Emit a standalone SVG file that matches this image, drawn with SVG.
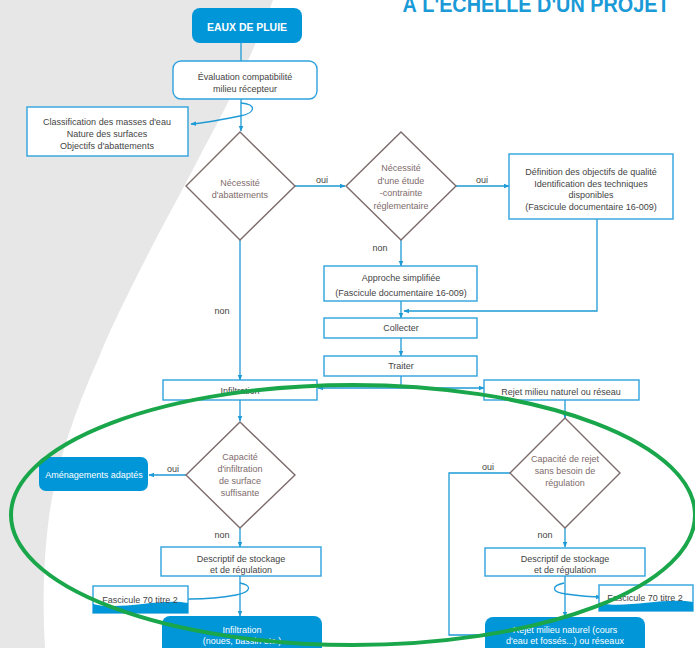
<svg xmlns="http://www.w3.org/2000/svg" width="695" height="648" viewBox="0 0 695 648">
<style>
.t{font-family:"Liberation Sans",Arial,sans-serif;font-size:9px;fill:#444444;text-anchor:middle}
.d{font-family:"Liberation Sans",Arial,sans-serif;font-size:9px;fill:#7e6b6b;text-anchor:middle}
.w{font-family:"Liberation Sans",Arial,sans-serif;font-size:9px;fill:#ffffff;text-anchor:middle}
.l{font-family:"Liberation Sans",Arial,sans-serif;font-size:9px;fill:#444444;text-anchor:middle}
.box{fill:#ffffff;stroke:#2ea3dd;stroke-width:1.4}
.fill{fill:#0096d8}
.dia{fill:#ffffff;stroke:#7d6b6b;stroke-width:1.4}
.c{fill:none;stroke:#1e9ad6;stroke-width:1.3}
.a{marker-end:url(#ah)}
</style>
<defs>
<marker id="ah" viewBox="0 0 10 10" refX="9" refY="5" markerWidth="6" markerHeight="6" markerUnits="userSpaceOnUse" orient="auto"><path d="M0,1 L10,5 L0,9 Z" fill="#1e9ad6"/></marker>
</defs>
<rect width="695" height="648" fill="#ffffff"/>
<path d="M0,0 L273,0 C255,50 225,110 203,150 C180,195 160,230 140,270 C120,310 110,330 100,355 C80,400 60,450 50,510 C44,550 42,600 45,648 L0,648 Z" fill="#e6e7e6"/>
<text x="536" y="12" font-family="Liberation Sans,Arial,sans-serif" font-size="22" font-weight="bold" fill="#1a9ad6" text-anchor="middle" textLength="267" lengthAdjust="spacingAndGlyphs">À L'ÉCHELLE D'UN PROJET</text>

<g id="connectors">
<path class="c" d="M241,43 V61"/>
<path class="c a" d="M241,99 V131"/>
<path class="c a" d="M241,103 C257,104 256,113 240,116 C225,119 206,123 191,124"/>
<path class="c a" d="M295,186 H345"/>
<path class="c a" d="M456,186 H509"/>
<path class="c a" d="M401,240 V266"/>
<path class="c a" d="M597,219 V311 H404"/>
<path class="c a" d="M401,301 V318"/>
<path class="c a" d="M401,338 V356"/>
<path class="c" d="M401,376 V388"/>
<path class="c a" d="M401,388 H318"/>
<path class="c a" d="M401,388 H484"/>
<path class="c a" d="M240,240 V380"/>
<path class="c a" d="M240,400 V421"/>
<path class="c a" d="M186,475 H149"/>
<path class="c a" d="M240,528 V547"/>
<path class="c a" d="M240,576 V616"/>
<path class="c" d="M240,583 C252,585 252,592 236,595 C220,598 202,599 190,599 C186,599 185,602 188,603"/>
<path class="c a" d="M565,400 V418"/>
<path class="c" d="M510,473 H449 V635 H485"/>
<path class="c a" d="M565,528 V547"/>
<path class="c a" d="M565,576 V617"/>
<path class="c a" d="M564,583 C551,586 551,592 566,594 C580,596 590,597 601,597"/>
<text class="l" x="322" y="183">oui</text>
<text class="l" x="482" y="183">oui</text>
<text class="l" x="380" y="251">non</text>
<text class="l" x="222" y="314">non</text>
<text class="l" x="173" y="472">oui</text>
<text class="l" x="222" y="538">non</text>
<text class="l" x="488" y="470">oui</text>
<text class="l" x="545" y="538">non</text>
</g>

<g id="eaux">
<rect class="fill" x="192" y="8" width="110" height="35" rx="8"/>
<text x="247" y="31" font-family="Liberation Sans,Arial,sans-serif" font-size="10.5" font-weight="bold" fill="#ffffff" text-anchor="middle" textLength="80" lengthAdjust="spacingAndGlyphs">EAUX DE PLUIE</text>
</g>
<g id="evaluation">
<rect class="box" x="173" y="61" width="144" height="38" rx="8"/>
<text class="t" x="245" y="80">Évaluation compatibilité</text>
<text class="t" x="245" y="92">milieu récepteur</text>
</g>
<g id="classification">
<rect class="box" x="27" y="107" width="161" height="49"/>
<text class="t" x="107" y="125">Classification des masses d'eau</text>
<text class="t" x="107" y="137">Nature des surfaces</text>
<text class="t" x="107" y="149">Objectifs d'abattements</text>
</g>
<g id="necessite-abattements">
<path class="dia" d="M240,132 L295,186 L240,240 L186,186 Z"/>
<text class="d" x="240" y="186">Nécessité</text>
<text class="d" x="240" y="198">d'abattements</text>
</g>
<g id="necessite-etude">
<path class="dia" d="M401,132 L456,186 L401,240 L346,186 Z"/>
<text class="d" x="401" y="171">Nécessité</text>
<text class="d" x="401" y="183.5">d'une étude</text>
<text class="d" x="401" y="196">-contrainte</text>
<text class="d" x="401" y="208.5">réglementaire</text>
</g>
<g id="definition">
<rect class="box" x="509" y="154" width="164" height="65"/>
<text class="t" x="591" y="175">Définition des objectifs de qualité</text>
<text class="t" x="591" y="186.5">Identification des techniques</text>
<text class="t" x="591" y="198">disponibles</text>
<text class="t" x="591" y="209.5">(Fascicule documentaire 16-009)</text>
</g>
<g id="approche">
<rect class="box" x="324" y="266" width="153" height="35"/>
<text class="t" x="401" y="281">Approche simplifiée</text>
<text class="t" x="401" y="296">(Fascicule documentaire 16-009)</text>
</g>
<g id="collecter">
<rect class="box" x="324" y="318" width="153" height="20"/>
<text class="t" x="401" y="331">Collecter</text>
</g>
<g id="traiter">
<rect class="box" x="324" y="356" width="153" height="20"/>
<text class="t" x="401" y="369">Traiter</text>
</g>
<g id="infiltration-haut">
<rect class="box" x="163" y="380" width="154" height="20"/>
<text class="t" x="240" y="394">Infiltration</text>
</g>
<g id="rejet-haut">
<rect class="box" x="484" y="380" width="155" height="20"/>
<text class="t" x="561" y="395">Rejet milieu naturel ou réseau</text>
</g>
<g id="capacite-infiltration">
<path class="dia" d="M240,422 L295,475 L240,528 L186,475 Z"/>
<text class="d" x="240" y="460">Capacité</text>
<text class="d" x="240" y="472">d'infiltration</text>
<text class="d" x="240" y="484">de surface</text>
<text class="d" x="240" y="496">suffisante</text>
</g>
<g id="amenagements">
<rect class="fill" x="39" y="457" width="109" height="34" rx="7"/>
<text class="w" x="94" y="478">Aménagements adaptés</text>
</g>
<g id="capacite-rejet">
<path class="dia" d="M565,418 L620,473 L565,528 L510,473 Z"/>
<text class="d" x="565" y="462">Capacité de rejet</text>
<text class="d" x="565" y="474">sans besoin de</text>
<text class="d" x="565" y="486">régulation</text>
</g>
<g id="descriptif-gauche">
<rect class="box" x="161" y="547" width="160" height="29"/>
<text class="t" x="241" y="562">Descriptif de stockage</text>
<text class="t" x="241" y="573">et de régulation</text>
</g>
<g id="fascicule-gauche">
<rect class="box" x="93" y="586" width="95" height="27"/>
<path d="M93,604 C120,611 160,598 188,603 L188,613 L93,613 Z" fill="#0096d8"/>
<text class="t" x="140" y="603">Fascicule 70 titre 2</text>
</g>
<g id="infiltration-bas">
<rect class="fill" x="162" y="616" width="160" height="44" rx="8"/>
<text class="w" x="242" y="633">Infiltration</text>
<text class="w" x="242" y="644">(noues, bassin etc.)</text>
</g>
<g id="descriptif-droite">
<rect class="box" x="485" y="548" width="160" height="28"/>
<text class="t" x="565" y="562">Descriptif de stockage</text>
<text class="t" x="565" y="573">et de régulation</text>
</g>
<g id="fascicule-droite">
<rect class="box" x="599" y="585" width="94" height="26"/>
<path d="M599,603 C625,609 665,597 693,602 L693,611 L599,611 Z" fill="#0096d8"/>
<text class="t" x="645" y="601">Fascicule 70 titre 2</text>
</g>
<g id="rejet-bas">
<rect class="fill" x="485" y="617" width="160" height="44" rx="8"/>
<text class="w" x="565" y="633">Rejet milieu naturel (cours</text>
<text class="w" x="565" y="644">d'eau et fossés...) ou réseaux</text>
</g>
<ellipse cx="353" cy="515" rx="342" ry="130" fill="none" stroke="#1aa64a" stroke-width="4"/>
</svg>
